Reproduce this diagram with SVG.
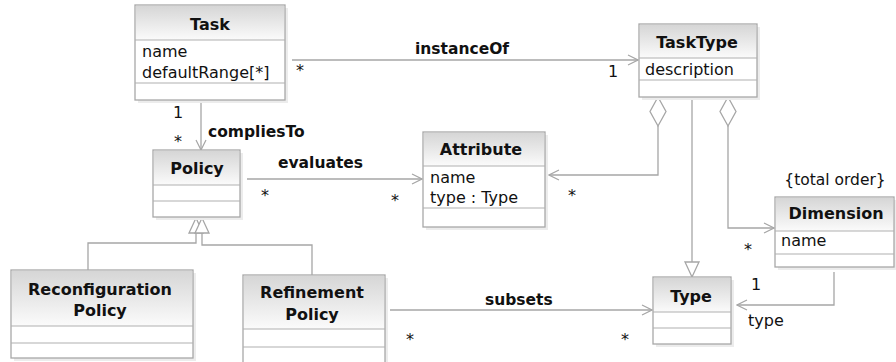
<svg xmlns="http://www.w3.org/2000/svg" width="896" height="362" viewBox="0 0 896 362">
<defs>
<linearGradient id="hdr" x1="0" y1="0" x2="0" y2="1">
<stop offset="0" stop-color="#d6d6d6"/>
<stop offset="1" stop-color="#fbfbfb"/>
</linearGradient>
<marker id="open" markerWidth="12" markerHeight="12" refX="11" refY="6" orient="auto" markerUnits="userSpaceOnUse">
<path d="M1,1 L11,6 L1,11" fill="none" stroke="#a6a6a6" stroke-width="1.2"/>
</marker>
</defs>
<style>
.box{fill:#ffffff;stroke:#a8a8a8;stroke-width:1.3}
.shadow{fill:#ececec}
.head{fill:url(#hdr);stroke:none}
.sep{stroke:#b0b0b0;stroke-width:1.2}
.edge{fill:none;stroke:#a6a6a6;stroke-width:1.3}
.tri{fill:#ffffff;stroke:#a6a6a6;stroke-width:1.3}
text{font-family:"DejaVu Sans","Liberation Sans",sans-serif;font-size:16px;fill:#111111}
.title{font-weight:bold;text-anchor:middle}
.lbl{font-weight:bold;font-size:15.5px}
.mid{text-anchor:middle}
</style>
<rect width="896" height="362" fill="#ffffff"/>

<g id="connectors">
<path class="edge" d="M292,60 H638" marker-end="url(#open)"/>
<path class="edge" d="M201,102 V150" marker-end="url(#open)"/>
<path class="edge" d="M247,179 H422" marker-end="url(#open)"/>
<path class="edge" d="M658,126 V175 H549" marker-end="url(#open)"/>
<path class="tri" d="M658,97 L666,111.5 L658,126 L650,111.5 Z"/>
<path class="edge" d="M728,126 V228 H774" marker-end="url(#open)"/>
<path class="tri" d="M728,97 L736,111.5 L728,126 L720,111.5 Z"/>
<path class="edge" d="M692,97 V262"/>
<path class="tri" d="M685,262 L699,262 L692,277 Z"/>
<path class="edge" d="M834,272 V305 H737" marker-end="url(#open)"/>
<path class="edge" d="M390,310 H652" marker-end="url(#open)"/>
<path class="edge" d="M196,233 V243 H88 V270"/>
<path class="edge" d="M202,233 V245 H312 V275"/>
<path class="tri" d="M196,218 L203,233 L189,233 Z"/>
<path class="tri" d="M202,218 L209,233 L195,233 Z"/>
<text x="415" y="54" class="lbl">instanceOf</text>
<text x="300" y="76" class="mid">*</text>
<text x="613" y="77" class="mid">1</text>
<text x="208" y="137" class="lbl">compliesTo</text>
<text x="178" y="118" class="mid">1</text>
<text x="178" y="147" class="mid">*</text>
<text x="278" y="168" class="lbl">evaluates</text>
<text x="265" y="201" class="mid">*</text>
<text x="395" y="206" class="mid">*</text>
<text x="572" y="201" class="mid">*</text>
<text x="748" y="255" class="mid">*</text>
<text x="756" y="290" class="mid">1</text>
<text x="748" y="326">type</text>
<text x="485" y="305" class="lbl">subsets</text>
<text x="410" y="345" class="mid">*</text>
<text x="625" y="345" class="mid">*</text>
</g>

<g id="Task">
<rect class="shadow" x="138" y="8" width="150" height="95"/>
<rect class="box" x="135" y="5" width="150" height="95"/>
<rect class="head" x="136" y="6" width="148" height="34"/>
<line class="sep" x1="135" y1="40" x2="285" y2="40"/>
<line class="sep" x1="135" y1="83" x2="285" y2="83"/>
<text x="210" y="30" class="title">Task</text>
<text x="142" y="57">name</text>
<text x="142" y="78">defaultRange[*]</text>
</g>

<g id="TaskType">
<rect class="shadow" x="642" y="27" width="118" height="73"/>
<rect class="box" x="639" y="24" width="118" height="73"/>
<rect class="head" x="640" y="25" width="116" height="33"/>
<line class="sep" x1="639" y1="58" x2="757" y2="58"/>
<line class="sep" x1="639" y1="80" x2="757" y2="80"/>
<text x="697" y="48" class="title">TaskType</text>
<text x="645" y="75">description</text>
</g>

<g id="Attribute">
<rect class="shadow" x="426" y="135" width="122" height="95"/>
<rect class="box" x="423" y="132" width="122" height="95"/>
<rect class="head" x="424" y="133" width="120" height="33"/>
<line class="sep" x1="423" y1="166" x2="545" y2="166"/>
<line class="sep" x1="423" y1="208" x2="545" y2="208"/>
<text x="481" y="155" class="title">Attribute</text>
<text x="430" y="183">name</text>
<text x="430" y="203">type : Type</text>
</g>

<g id="Policy">
<rect class="shadow" x="156" y="153" width="87" height="67"/>
<rect class="box" x="153" y="150" width="87" height="67"/>
<rect class="head" x="154" y="151" width="85" height="34"/>
<line class="sep" x1="153" y1="185" x2="240" y2="185"/>
<line class="sep" x1="153" y1="201" x2="240" y2="201"/>
<text x="197" y="174" class="title">Policy</text>
</g>

<g id="ReconfigurationPolicy">
<rect class="shadow" x="14" y="273" width="182" height="88"/>
<rect class="box" x="11" y="270" width="182" height="88"/>
<rect class="head" x="12" y="271" width="180" height="55"/>
<line class="sep" x1="11" y1="326" x2="193" y2="326"/>
<line class="sep" x1="11" y1="343" x2="193" y2="343"/>
<text x="100" y="295" class="title">Reconfiguration</text>
<text x="100" y="316" class="title">Policy</text>
</g>

<g id="RefinementPolicy">
<rect class="shadow" x="246" y="278" width="142" height="95"/>
<rect class="box" x="243" y="275" width="142" height="95"/>
<rect class="head" x="244" y="276" width="140" height="53"/>
<line class="sep" x1="243" y1="329" x2="385" y2="329"/>
<line class="sep" x1="243" y1="347" x2="385" y2="347"/>
<text x="312" y="298" class="title">Refinement</text>
<text x="312" y="320" class="title">Policy</text>
</g>

<g id="Type">
<rect class="shadow" x="656" y="280" width="78" height="67"/>
<rect class="box" x="653" y="277" width="78" height="67"/>
<rect class="head" x="654" y="278" width="76" height="34"/>
<line class="sep" x1="653" y1="312" x2="731" y2="312"/>
<line class="sep" x1="653" y1="328" x2="731" y2="328"/>
<text x="691" y="302" class="title">Type</text>
</g>

<g id="Dimension">
<rect class="shadow" x="778" y="200" width="119" height="70"/>
<rect class="box" x="775" y="197" width="119" height="70"/>
<rect class="head" x="776" y="198" width="117" height="33"/>
<line class="sep" x1="775" y1="231" x2="894" y2="231"/>
<line class="sep" x1="775" y1="254" x2="894" y2="254"/>
<text x="836" y="219" class="title">Dimension</text>
<text x="781" y="246">name</text>
<text x="835" y="185" class="mid" style="font-size:15.5px">{total order}</text>
</g>
</svg>
